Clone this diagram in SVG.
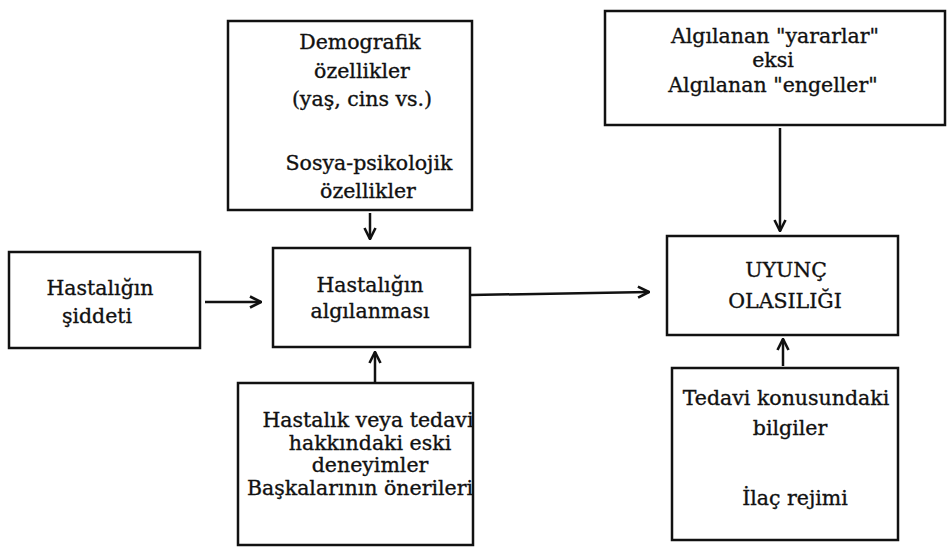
<svg xmlns="http://www.w3.org/2000/svg" width="950" height="547" viewBox="0 0 950 547">
<style>
.box{fill:#fff;stroke:#111;stroke-width:2.5}
.t{font-family:"DejaVu Serif","Liberation Serif",serif;font-size:20.5px;fill:#111;stroke:#111;stroke-width:0.35;text-anchor:middle}
.c{fill:none;stroke:#111;stroke-width:2.5}
</style>
<defs>
<marker id="ah" viewBox="0 0 14 14" refX="13" refY="7" markerWidth="14" markerHeight="14" markerUnits="userSpaceOnUse" orient="auto">
<path d="M2,1.5 L13,7 L2,12.5" fill="none" stroke="#111" stroke-width="2.6"/>
</marker>
</defs>
<rect width="950" height="547" fill="#fff"/>
<g id="connectors">
<line class="c" x1="370" y1="213" x2="370" y2="239" marker-end="url(#ah)"/>
<line class="c" x1="205" y1="302" x2="261" y2="302" marker-end="url(#ah)"/>
<line class="c" x1="375" y1="384" x2="375" y2="352" marker-end="url(#ah)"/>
<line class="c" x1="471" y1="295" x2="649" y2="292" marker-end="url(#ah)"/>
<line class="c" x1="780" y1="128" x2="780" y2="231" marker-end="url(#ah)"/>
<line class="c" x1="783" y1="366" x2="783" y2="339" marker-end="url(#ah)"/>
</g>
<g id="demografik">
<rect class="box" x="228" y="21" width="244" height="189"/>
<text class="t" x="360" y="49">Demografik</text>
<text class="t" x="362" y="78">özellikler</text>
<text class="t" x="362" y="106">(yaş, cins vs.)</text>
<text class="t" x="369" y="170">Sosya-psikolojik</text>
<text class="t" x="368" y="198">özellikler</text>
</g>
<g id="yararlar">
<rect class="box" x="605" y="11" width="340" height="114"/>
<text class="t" x="775" y="43">Algılanan "yararlar"</text>
<text class="t" x="773" y="67">eksi</text>
<text class="t" x="773" y="92">Algılanan "engeller"</text>
</g>
<g id="siddet">
<rect class="box" x="9" y="252" width="191" height="96"/>
<text class="t" x="100" y="295">Hastalığın</text>
<text class="t" x="97" y="323">şiddeti</text>
</g>
<g id="algilanma">
<rect class="box" x="273" y="248" width="197" height="99"/>
<text class="t" x="370" y="292">Hastalığın</text>
<text class="t" x="370" y="318">algılanması</text>
</g>
<g id="uyunc">
<rect class="box" x="667" y="236" width="231" height="99"/>
<text class="t" x="786" y="277">UYUNÇ</text>
<text class="t" x="785" y="308">OLASILIĞI</text>
</g>
<g id="deneyim">
<rect class="box" x="238" y="383" width="235" height="162"/>
<text class="t" x="368" y="427">Hastalık veya tedavi</text>
<text class="t" x="370" y="450">hakkındaki eski</text>
<text class="t" x="370" y="472">deneyimler</text>
<text class="t" x="360" y="495">Başkalarının önerileri</text>
</g>
<g id="tedavi">
<rect class="box" x="672" y="368" width="226" height="172"/>
<text class="t" x="786" y="405">Tedavi konusundaki</text>
<text class="t" x="790" y="435">bilgiler</text>
<text class="t" x="795" y="505">İlaç rejimi</text>
</g>
</svg>
